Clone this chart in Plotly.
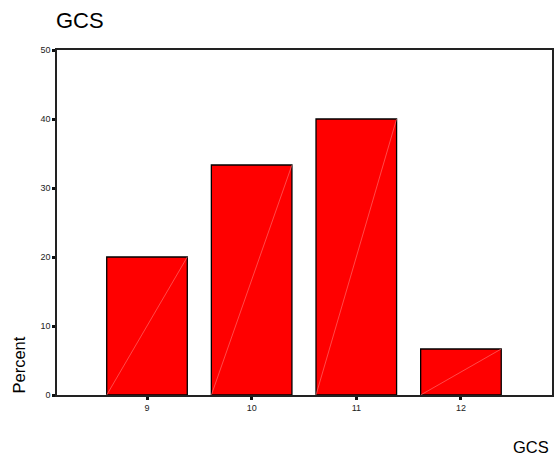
import plotly.graph_objects as go

categories = [9, 10, 11, 12]
percent = [20.0, 33.33, 40.0, 6.67]
tick_labels = ["9", "10", "11", "12"]
y_ticks = [0, 10, 20, 30, 40, 50]

bar_width = 0.77
FONT = "Liberation Sans, Arial, sans-serif"

fig = go.Figure()
fig.add_trace(go.Bar(
    x=categories, y=percent, width=bar_width,
    marker=dict(color="#ff0000", line=dict(color="#000000", width=1.3)),
    hoverinfo="x+y",
))

# faint diagonal lines inside each bar (bottom-left to top-right)
for c, v in zip(categories, percent):
    fig.add_shape(type="line", xref="x", yref="y",
                  x0=c - bar_width / 2, y0=0, x1=c + bar_width / 2, y1=v,
                  line=dict(color="#ff7a7a", width=0.6))

fig.update_layout(
    width=555, height=458,
    margin=dict(l=57, r=1, t=50, b=63),
    paper_bgcolor="white", plot_bgcolor="white",
    showlegend=False,
    font=dict(family=FONT, color="#222"),
    xaxis=dict(
        range=[8.14, 12.87], tickmode="array", tickvals=categories, ticktext=tick_labels,
        showgrid=False, zeroline=False, showline=True, mirror=True,
        linecolor="#222", linewidth=1.5,
        ticks="outside", ticklen=3, tickwidth=3, tickcolor="#111",
        tickfont=dict(size=9, color="#222"),
    ),
    yaxis=dict(
        range=[0, 50], tickmode="array", tickvals=y_ticks,
        showgrid=False, zeroline=False, showline=True, mirror=True,
        linecolor="#222", linewidth=1.5,
        ticks="outside", ticklen=3, tickwidth=3, tickcolor="#111",
        tickfont=dict(size=9, color="#222"),
    ),
)

fig.add_annotation(text="GCS", xref="paper", yref="paper", x=0, y=1,
                   xanchor="left", yanchor="bottom", yshift=15, xshift=-3,
                   showarrow=False, font=dict(size=22, color="#000", family=FONT))
fig.add_annotation(text="Percent", xref="paper", yref="paper", x=0, y=0,
                   xanchor="center", yanchor="bottom", xshift=-39, yshift=-1,
                   textangle=-90, showarrow=False,
                   font=dict(size=16.5, color="#000", family=FONT))
fig.add_annotation(text="GCS", xref="paper", yref="paper", x=1, y=0,
                   xanchor="right", yanchor="middle", yshift=-52, xshift=-1,
                   showarrow=False, font=dict(size=16.5, color="#000", family=FONT))

fig.write_html("out.html", config={"displayModeBar": False},
               post_script="document.body.style.margin='0';document.body.style.overflow='hidden';")
